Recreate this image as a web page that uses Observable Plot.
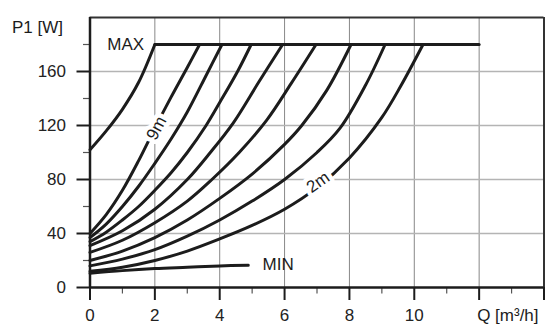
<!DOCTYPE html>
<html><head><meta charset="utf-8">
<script src="https://cdn.jsdelivr.net/npm/d3@7"></script>
<script src="https://cdn.jsdelivr.net/npm/@observablehq/plot@0.6"></script>
<style>body{margin:0;background:#fff;} svg{display:block;}</style>
</head><body><div id="chart"></div>
<script>
// Data (Q in m³/h, P1 in W)
const qMAX = [0, 0.5, 1, 1.5, 2];            const pMAX = [102, 116, 132, 152, 180];
const qMAXflat = [2, 12];                    const pMAXflat = [180, 180];
const q9 = [0, 0.5, 1, 1.5, 2, 2.5, 3, 3.38]; const p9 = [40, 54, 72, 94, 118, 141, 163, 180];
const q8 = [0, 0.5, 1, 1.5, 2, 2.5, 3, 3.6, 4.07]; const p8 = [37, 47, 60, 75, 92, 110, 130, 158, 180];
const q7 = [0, 0.5, 1, 1.5, 2, 2.5, 3, 3.58, 4, 4.55, 4.97]; const p7 = [34, 41, 50, 60, 72, 85, 100, 120, 137, 160, 180];
const q6 = [0, 1, 2, 3, 3.71, 4.42, 5.2, 5.94]; const p6 = [31, 42, 58, 80, 100, 122, 152, 180];
const q5 = [0, 1, 2, 3, 3.76, 4.6, 5.45, 6.2, 6.97]; const p5 = [26, 35, 48, 64, 80, 100, 124, 151, 180];
const q4 = [0, 1, 2, 3, 4, 5, 6, 6.53, 7.3, 8.05]; const p4 = [20, 27, 37, 50, 66, 84, 106, 120, 146, 180];
const q3 = [0, 1, 2, 3, 4, 5, 6, 7, 7.71, 8.5, 9.1]; const p3 = [16, 21, 28, 38, 50, 64, 80, 100, 118, 150, 180];
const q2 = [0, 1, 2, 3, 4, 5, 6, 7, 8, 9, 9.6, 10.27]; const p2 = [12, 15, 20, 27, 36, 46, 58, 74, 96, 126, 150, 180];
const qMIN = [0, 1, 2, 3, 4, 4.88];          const pMIN = [10.5, 12.5, 14, 15, 16, 16.5];

const xTicks = [0, 2, 4, 6, 8, 10, 12, 14];
const xTickLabels = ["0", "2", "4", "6", "8", "10", "", ""];
const xMinorTicks = [1, 3, 5, 7, 9, 11, 13];
const yTicks = [0, 40, 80, 120, 160];
const yMinorTicks = [20, 60, 100, 140, 180];
const xGrid = [2, 4, 6, 8, 10, 12];
const yGrid = [40, 80, 120, 160];
const xLabel = "Q [m³/h]";
const yLabel = "P1 [W]";
const curveLabels = ["9m", "2m"];
const curveLabelQ = [2.05, 7.03];
const curveLabelP = [118, 78];
const curveLabelAngle = [-62, -35];
const maxLabel = "MAX", maxLabelQ = 1.1, maxLabelP = 180;
const minLabel = "MIN", minLabelQ = 5.32, minLabelP = 17;

const series = [
  ["MAX", qMAX, pMAX], ["MAXflat", qMAXflat, pMAXflat],
  ["9m", q9, p9], ["8m", q8, p8], ["7m", q7, p7], ["6m", q6, p6],
  ["5m", q5, p5], ["4m", q4, p4], ["3m", q3, p3], ["2m", q2, p2], ["MIN", qMIN, pMIN]
];
const rows = series.flatMap(([name, qs, ps]) => qs.map((q, i) => ({name, q, p: ps[i]})));
const labelRows = curveLabels.map((t, i) => ({t, q: curveLabelQ[i], p: curveLabelP[i], a: curveLabelAngle[i]}));

const ink = "#1c1c1c";
const fs = 17;
const chart = Plot.plot({
  width: 545, height: 327,
  marginLeft: 89.5, marginRight: 1.5, marginTop: 17, marginBottom: 40,
  x: {domain: [0, 14]},
  y: {domain: [0, 200]},
  style: {fontFamily: "'Liberation Sans', Arial, sans-serif", fontSize: fs + "px", color: "#222", background: "#fff"},
  marks: [
    Plot.ruleX(xGrid, {stroke: "#888", strokeWidth: 1}),
    Plot.ruleY(yGrid, {stroke: "#b4b4b4", strokeWidth: 1.5}),
    Plot.ruleX([14], {stroke: "#333", strokeWidth: 2}),
    Plot.ruleY([200], {stroke: "#333", strokeWidth: 2}),
    Plot.axisY({ticks: yTicks, tickSize: 13, tickPadding: 11, strokeWidth: 2, stroke: ink, fontSize: fs, label: null}),
    Plot.axisY({ticks: yMinorTicks, tickSize: 6.5, strokeWidth: 1.2, stroke: "#555", tickFormat: () => "", label: null}),
    Plot.axisX({ticks: xTicks, tickSize: 13, tickPadding: 8, strokeWidth: 2, stroke: ink, fontSize: fs, label: null,
      tickFormat: d => xTickLabels[xTicks.indexOf(d)]}),
    Plot.axisX({ticks: xMinorTicks, tickSize: 6.5, strokeWidth: 1.2, stroke: "#555", tickFormat: () => "", label: null}),
    Plot.ruleX([0], {stroke: ink, strokeWidth: 2.5}),
    Plot.ruleY([0], {stroke: ink, strokeWidth: 2.5}),
    Plot.line(rows, {x: "q", y: "p", z: "name", stroke: ink, strokeWidth: 3, curve: "catmull-rom"}),
    Plot.text(labelRows, {x: "q", y: "p", text: "t", rotate: "a", fontSize: fs, fill: ink,
      stroke: "white", strokeWidth: 9, paintOrder: "stroke"}),
    Plot.text([maxLabel], {x: maxLabelQ, y: maxLabelP, text: d => d, fontSize: fs, fill: ink, textAnchor: "middle"}),
    Plot.text([minLabel], {x: minLabelQ, y: minLabelP, text: d => d, fontSize: fs, fill: ink, textAnchor: "start"}),
    Plot.text([xLabel], {x: 12, y: 0, text: d => d, textAnchor: "start", lineAnchor: "top", dx: -2, dy: 21, fontSize: fs, fill: ink}),
    Plot.text([yLabel], {x: 0, y: 200, text: d => d, textAnchor: "end", dx: -27, dy: 10, fontSize: fs, fill: ink})
  ]
});
document.getElementById("chart").append(chart);
</script></body></html>
